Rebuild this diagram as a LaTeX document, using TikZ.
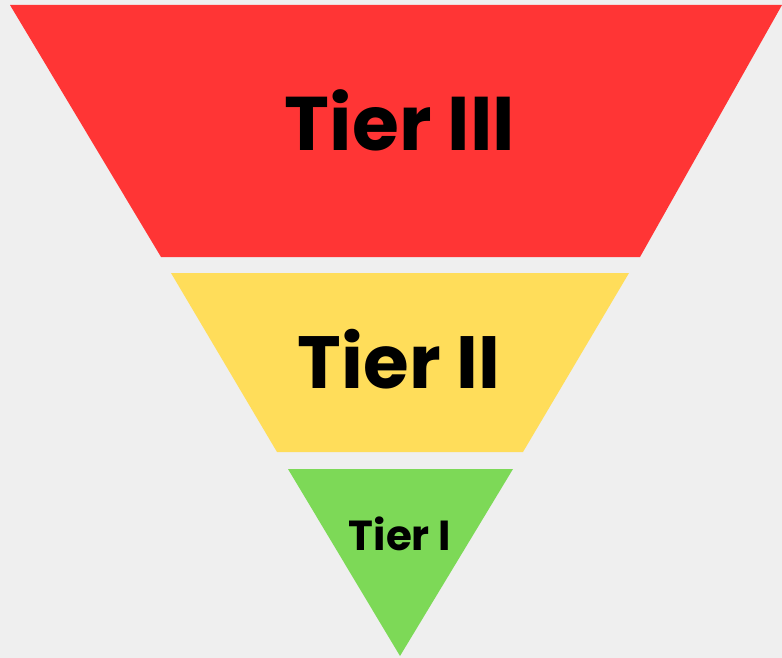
\documentclass[tikz,border=0pt]{standalone}
\usepackage{fontspec}
\setmainfont{Poppins}
\usepackage{tikz}
\usetikzlibrary{positioning}

\definecolor{tierbg}{HTML}{EFEFEF}
\definecolor{tierred}{HTML}{FF3535}
\definecolor{tieryellow}{HTML}{FFDD5A}
\definecolor{tiergreen}{HTML}{7DD957}

\begin{document}
\begin{tikzpicture}[
      x=1pt, y=-1pt,
      tierlabel/.style={
        inner sep=0pt,
        font=\bfseries
      }
    ]
    %% Background
    \fill[tierbg] (0,0) rectangle (782,658);
    \useasboundingbox (0,0) rectangle (782,658);
    %% Tiers
    \fill[tierred] (10,5) -- (782,5) -- (640,257) -- (161,257) -- cycle;
    \fill[tieryellow] (171,273) -- (629,273) -- (523,452) -- (277,452) -- cycle;
    \fill[tiergreen] (288,469) -- (513,469) -- (400,656) -- cycle;
    %% Labels
    \node[tierlabel, font=\fontsize{76}{76}\selectfont\bfseries] (tier-3) at (400,120) {Tier III};
    \node[tierlabel, font=\fontsize{74}{74}\selectfont\bfseries] (tier-2) at (399,359) {Tier II};
    \node[tierlabel, font=\fontsize{42}{42}\selectfont\bfseries] (tier-1) at (400,534) {Tier I};
  \end{tikzpicture}
\end{document}
